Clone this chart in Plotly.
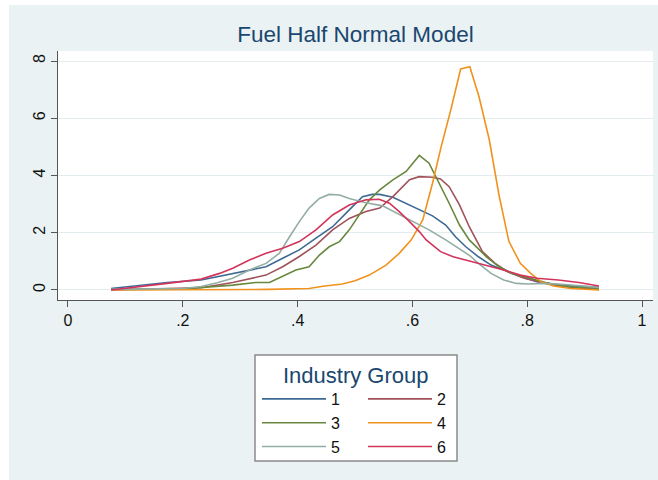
import plotly.graph_objects as go

# ---- data ----
x1 = [0.075,0.129,0.173,0.232,0.287,0.345,0.374,0.403,0.432,0.461,0.490,0.513,0.530,0.543,0.566,0.589,0.612,0.635,0.658,0.675,0.693,0.715,0.737,0.759,0.788,0.817,0.854,0.925]
y1 = [0.05,0.17,0.26,0.35,0.58,0.81,1.11,1.40,1.81,2.21,2.80,3.26,3.34,3.34,3.24,3.03,2.82,2.59,2.27,1.86,1.51,1.16,0.87,0.70,0.47,0.29,0.17,0.09]

x2 = [0.075,0.200,0.232,0.287,0.345,0.374,0.403,0.432,0.461,0.490,0.519,0.543,0.566,0.595,0.612,0.635,0.649,0.664,0.682,0.699,0.711,0.722,0.744,0.766,0.795,0.832,0.876,0.925]
y2 = [0.01,0.05,0.08,0.26,0.52,0.81,1.17,1.57,2.10,2.50,2.74,2.86,3.26,3.85,3.96,3.94,3.88,3.61,2.97,2.21,1.75,1.34,0.93,0.64,0.41,0.23,0.09,0.02]

x3 = [0.075,0.200,0.287,0.327,0.351,0.374,0.397,0.420,0.438,0.455,0.473,0.490,0.507,0.525,0.543,0.566,0.589,0.612,0.629,0.647,0.664,0.682,0.699,0.729,0.751,0.773,0.802,0.832,0.868,0.925]
y3 = [0.01,0.04,0.17,0.26,0.26,0.47,0.70,0.81,1.22,1.51,1.69,2.10,2.62,3.15,3.50,3.85,4.14,4.70,4.43,3.73,3.03,2.27,1.75,1.16,0.81,0.58,0.41,0.26,0.12,0.05]

x4 = [0.075,0.200,0.350,0.420,0.444,0.478,0.500,0.525,0.554,0.577,0.598,0.618,0.635,0.650,0.667,0.684,0.700,0.716,0.734,0.751,0.768,0.788,0.806,0.824,0.846,0.876,0.925]
y4 = [0.00,0.00,0.02,0.05,0.13,0.21,0.32,0.52,0.87,1.28,1.75,2.45,3.73,5.00,6.30,7.72,7.80,6.75,5.24,3.30,1.70,0.93,0.58,0.29,0.14,0.05,0.00]

x5 = [0.075,0.200,0.232,0.260,0.287,0.316,0.345,0.368,0.386,0.403,0.420,0.438,0.455,0.473,0.490,0.519,0.548,0.571,0.600,0.629,0.658,0.680,0.700,0.715,0.737,0.759,0.781,0.802,0.824,0.854,0.890,0.925]
y5 = [0.02,0.05,0.12,0.25,0.41,0.70,0.93,1.28,1.86,2.39,2.86,3.20,3.34,3.32,3.20,3.05,2.94,2.70,2.39,2.10,1.75,1.45,1.20,0.93,0.58,0.35,0.23,0.21,0.23,0.21,0.14,0.09]

x6 = [0.075,0.129,0.173,0.232,0.264,0.287,0.316,0.345,0.374,0.403,0.432,0.461,0.490,0.519,0.542,0.560,0.577,0.595,0.612,0.624,0.649,0.671,0.693,0.715,0.737,0.759,0.788,0.817,0.854,0.890,0.925]
y6 = [0.00,0.14,0.23,0.38,0.58,0.76,1.05,1.28,1.46,1.69,2.10,2.62,2.97,3.15,3.17,3.03,2.74,2.39,2.04,1.75,1.34,1.16,1.05,0.93,0.81,0.70,0.52,0.41,0.35,0.26,0.14]

group_names = ["1", "2", "3", "4", "5", "6"]
xtick_vals = [0, 0.2, 0.4, 0.6, 0.8, 1]
xtick_text = ["0", ".2", ".4", ".6", ".8", "1"]
ytick_vals = [0, 2, 4, 6, 8]
ytick_text = ["0", "2", "4", "6", "8"]

title_text = "Fuel Half Normal Model"
legend_title = "Industry Group"

colors = ["#3d6a93", "#a0525a", "#68873f", "#f0921c", "#93ada5", "#d2345c"]
xs = [x1, x2, x3, x4, x5, x6]
ys = [y1, y2, y3, y4, y5, y6]
legend_ids = ["legend", "legend2", "legend", "legend2", "legend", "legend2"]

W, H = 658, 480
L, R, T, B = 58, 5, 51, 180
pw = W - L - R
ph = H - T - B

def px_to_paper_x(px):
    return (px - L) / pw

def px_to_paper_y(py):
    return 1 - (py - T) / ph

fig = go.Figure()
for xv, yv, nm, col, lg in zip(xs, ys, group_names, colors, legend_ids):
    fig.add_trace(go.Scatter(x=xv, y=yv, mode="lines", name=nm,
                             line=dict(color=col, width=1.6),
                             legend=lg, showlegend=True))

font_main = "Liberation Sans, Arial, sans-serif"
bluish = "#eaf2f3"

shapes = [
    # outer bluish background
    dict(type="rect", xref="paper", yref="paper", layer="below",
         x0=px_to_paper_x(9), x1=px_to_paper_x(658), y0=px_to_paper_y(481), y1=px_to_paper_y(5),
         fillcolor=bluish, line=dict(width=0)),
    # white plot area
    dict(type="rect", xref="paper", yref="paper", layer="below",
         x0=0, x1=1, y0=0, y1=1, fillcolor="white", line=dict(width=0)),
    # legend box
    dict(type="rect", xref="paper", yref="paper", layer="below",
         x0=px_to_paper_x(255), x1=px_to_paper_x(457), y0=px_to_paper_y(461), y1=px_to_paper_y(355),
         fillcolor="white", line=dict(color="#8a8a8a", width=1.5)),
]

fig.update_layout(
    width=W, height=H,
    margin=dict(l=L, r=R, t=T, b=B, autoexpand=False),
    paper_bgcolor="white",
    plot_bgcolor="white",
    font=dict(family=font_main, color="#111111"),
    title=dict(text=title_text, x=(L + pw / 2) / W, xanchor="center",
               y=1 - 34 / H, yanchor="middle",
               font=dict(size=22.5, color="#1a476f", family=font_main)),
    shapes=shapes,
    annotations=[dict(text=legend_title, xref="paper", yref="paper",
                      x=px_to_paper_x(356), y=px_to_paper_y(375),
                      xanchor="center", yanchor="middle", showarrow=False,
                      font=dict(size=22, color="#1a476f", family=font_main))],
    legend=dict(orientation="v", x=px_to_paper_x(257), y=px_to_paper_y(382),
                xanchor="left", yanchor="top", bgcolor="rgba(0,0,0,0)",
                borderwidth=0, itemwidth=64, font=dict(size=16, color="#111111"),
                traceorder="normal"),
    legend2=dict(orientation="v", x=px_to_paper_x(363), y=px_to_paper_y(382),
                 xanchor="left", yanchor="top", bgcolor="rgba(0,0,0,0)",
                 borderwidth=0, itemwidth=64, font=dict(size=16, color="#111111"),
                 traceorder="normal"),
    xaxis=dict(range=[-0.0174, 1.0191], tickvals=xtick_vals, ticktext=xtick_text,
               showgrid=False, zeroline=False, showline=True, linecolor="#555555",
               linewidth=1, ticks="outside", ticklen=6, tickcolor="#555555",
               tickfont=dict(size=16, color="#111111"), fixedrange=True),
    yaxis=dict(range=[-0.35, 8.35], tickvals=ytick_vals, ticktext=ytick_text,
               showgrid=True, gridcolor="#e3ecee", gridwidth=1.2, zeroline=False,
               showline=True, linecolor="#555555", linewidth=1, ticks="outside",
               ticklen=6, tickcolor="#555555", tickangle=-90,
               tickfont=dict(size=16, color="#111111"), fixedrange=True),
)

fig.write_html("out.html")
